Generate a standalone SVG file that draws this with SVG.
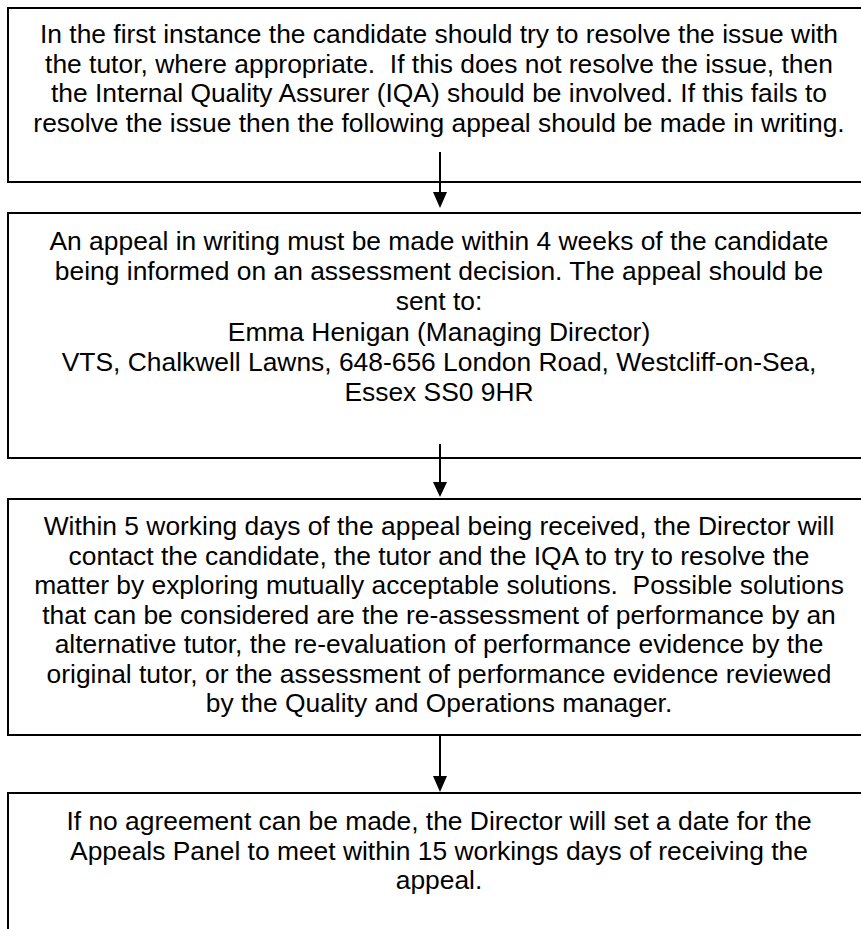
<svg xmlns="http://www.w3.org/2000/svg" width="861" height="929" viewBox="0 0 861 929">
<style>
.box{fill:#fff;stroke:#000;stroke-width:2}
.t{font-family:"Liberation Sans",Arial,sans-serif;font-size:26.4px;fill:#000;text-anchor:middle;white-space:pre}
.c{stroke:#000;stroke-width:2;fill:none}
.h{fill:#000}
</style>
<rect x="0" y="0" width="861" height="929" fill="#fff"/>
<g id="node1">
<rect class="box" x="8" y="8" width="900" height="174"/>
<text class="t" x="439" y="43">In the first instance the candidate should try to resolve the issue with</text>
<text class="t" x="439" y="73" xml:space="preserve">the tutor, where appropriate.  If this does not resolve the issue, then</text>
<text class="t" x="439" y="102">the Internal Quality Assurer (IQA) should be involved. If this fails to</text>
<text class="t" x="439" y="132">resolve the issue then the following appeal should be made in writing.</text>
</g>
<g id="node2">
<rect class="box" x="8" y="213" width="900" height="245"/>
<text class="t" x="439" y="250">An appeal in writing must be made within 4 weeks of the candidate</text>
<text class="t" x="439" y="280">being informed on an assessment decision. The appeal should be</text>
<text class="t" x="439" y="310">sent to:</text>
<text class="t" x="439" y="341">Emma Henigan (Managing Director)</text>
<text class="t" x="439" y="371">VTS, Chalkwell Lawns, 648-656 London Road, Westcliff-on-Sea,</text>
<text class="t" x="439" y="401">Essex SS0 9HR</text>
</g>
<g id="node3">
<rect class="box" x="8" y="499" width="900" height="236"/>
<text class="t" x="439" y="535">Within 5 working days of the appeal being received, the Director will</text>
<text class="t" x="439" y="565">contact the candidate, the tutor and the IQA to try to resolve the</text>
<text class="t" x="439" y="594" xml:space="preserve">matter by exploring mutually acceptable solutions.  Possible solutions</text>
<text class="t" x="439" y="624">that can be considered are the re-assessment of performance by an</text>
<text class="t" x="439" y="653">alternative tutor, the re-evaluation of performance evidence by the</text>
<text class="t" x="439" y="683">original tutor, or the assessment of performance evidence reviewed</text>
<text class="t" x="439" y="712">by the Quality and Operations manager.</text>
</g>
<g id="node4">
<rect class="box" x="8" y="793" width="900" height="200"/>
<text class="t" x="439" y="830">If no agreement can be made, the Director will set a date for the</text>
<text class="t" x="439" y="860">Appeals Panel to meet within 15 workings days of receiving the</text>
<text class="t" x="439" y="889">appeal.</text>
</g>
<g id="connectors">
<line class="c" x1="440" y1="152" x2="440" y2="193"/>
<polygon class="h" points="433,192 447,192 440,208"/>
<line class="c" x1="440" y1="444" x2="440" y2="483"/>
<polygon class="h" points="433,482 447,482 440,497"/>
<line class="c" x1="440" y1="736" x2="440" y2="777"/>
<polygon class="h" points="433,776 447,776 440,792"/>
</g>
</svg>
